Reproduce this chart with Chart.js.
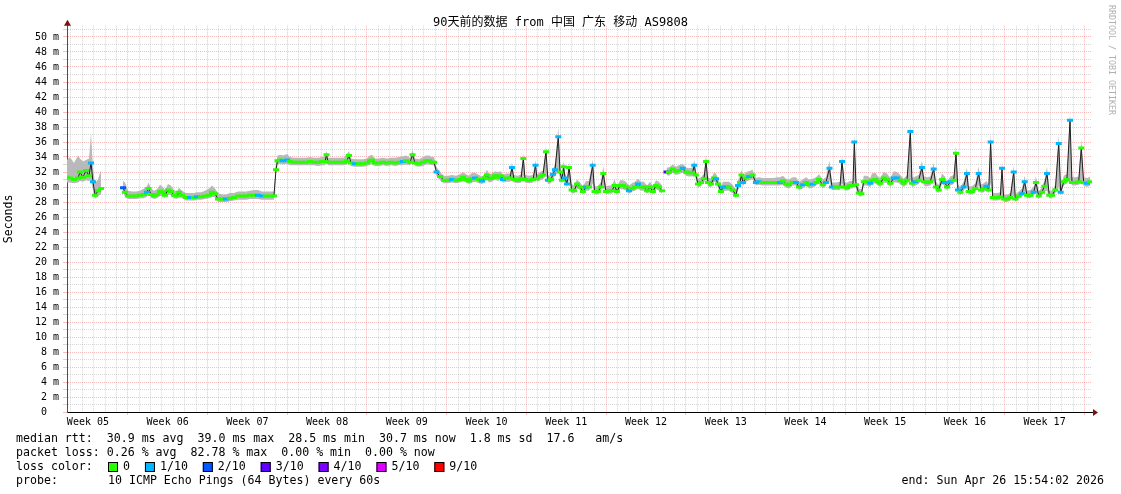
<!DOCTYPE html>
<html>
<head>
<meta charset="utf-8">
<title>SmokePing 90 days</title>
<script src="https://cdn.jsdelivr.net/npm/chart.js"></script>
<style>
  body { margin: 0; background: #fff; }
  canvas { display: block; }
</style>
</head>
<body>
<canvas id="smokeChart" width="1121" height="494"></canvas>
<script>
// time in days since the graph start (Mon Jan 26 15:54:02 2026), null marks a gap
const dayOffsets = [
  0.00, 0.26, 0.61, 0.97, 1.14, 1.40, 1.67, 1.93, 2.11, 2.28, 2.46, 2.72, 2.99, 3.78,
  4.92, 5.09, 5.36, 5.71, 6.06, 6.41, 6.76, 7.02, 7.16, 7.38,
  7.64, 7.90, 8.17, 8.43, 8.60, 8.87, 9.13, 9.39, 9.66, 9.83,
  10.10, 10.45, 10.80, 11.15, 11.41, 11.77, 12.12, 12.47, 12.73, 12.99,
  13.26, 13.61, 13.96, 14.31, 14.66, 15.01, 15.37, 15.72, 16.07, 16.42,
  16.77, 17.12, 17.47, 17.82, 18.17, 18.35, 18.48,
  18.70, 18.97, 19.32, 19.58, 19.93, 20.28, 20.63, 20.99, 21.34, 21.69,
  22.04, 22.39, 22.65, 22.79, 22.92, 23.27, 23.62, 23.97, 24.32, 24.58,
  24.76, 24.93, 25.29, 25.64, 25.99, 26.34, 26.60, 26.78, 27.04, 27.39,
  27.75, 28.10, 28.45, 28.80, 29.15, 29.50, 29.77, 30.12, 30.34, 30.56,
  30.91, 31.26, 31.52, 31.79, 32.05, 32.23,
  32.44, 32.75, 33.10, 33.45, 33.80, 34.16, 34.51, 34.77, 35.04, 35.30,
  35.56, 35.83, 36.18, 36.44, 36.70, 36.88, 37.05, 37.31, 37.58, 37.84,
  38.10, 38.28, 38.55, 38.90, 39.07, 39.25, 39.60, 39.86, 40.07, 40.22,
  40.57, 40.92, 41.14, 41.27, 41.53, 41.79, 42.06, 42.23, 42.50, 42.67,
  42.85, 43.14, 43.29, 43.46, 43.60, 43.73, 43.90, 44.08,
  44.31, 44.52, 44.78, 45.04, 45.30, 45.57, 45.83, 46.16, 46.32, 46.62,
  46.88, 47.09, 47.32, 47.59, 47.85, 48.07, 48.29, 48.56, 48.82, 49.08,
  49.35, 49.61, 49.87, 50.14, 50.40, 50.66, 50.93, 51.19, 51.45, 51.72,
  51.98, 52.25, 52.42,
  52.64, 52.86, 53.18, 53.47, 53.73, 54.06, 54.35, 54.61, 54.92, 55.08,
  55.22, 55.40, 55.67, 55.93, 56.11, 56.28, 56.55, 56.81, 56.99, 57.16,
  57.42, 57.60, 57.86, 58.13, 58.45, 58.74, 58.92, 59.09, 59.22, 59.35,
  59.61, 59.88, 60.20, 60.49, 60.75, 61.08, 61.37, 61.72, 62.07, 62.34,
  62.60, 62.86, 63.13, 63.39, 63.72, 64.01, 64.27, 64.60, 64.89, 65.15,
  65.48, 65.77, 66.03, 66.35, 66.64,
  66.95, 67.17, 67.52, 67.87, 68.05, 68.27, 68.49, 68.75, 69.01, 69.13,
  69.28, 69.52, 69.75, 69.96, 70.24, 70.53, 70.68, 70.97, 71.21, 71.41,
  71.71, 72.00, 72.29, 72.59, 72.88, 73.17, 73.46, 73.76, 74.05, 74.20,
  74.49, 74.78, 75.07, 75.25, 75.51, 75.80, 76.10, 76.30, 76.54, 76.83,
  77.09, 77.27, 77.56, 77.86, 78.06, 78.23, 78.44, 78.73, 79.02, 79.17,
  79.46, 79.75, 80.05, 80.25, 80.49, 80.73, 80.93, 81.10, 81.28, 81.66,
  81.95, 82.10, 82.25, 82.54, 82.83, 83.13, 83.27, 83.56, 83.85, 84.09,
  84.29, 84.58, 84.88, 85.08, 85.32, 85.61, 85.81, 86.05, 86.25, 86.49,
  86.78, 87.08, 87.25, 87.52, 87.80, 88.07, 88.24, 88.53, 88.83, 89.06,
  89.27, 89.56, 89.85
];

// median rtt in ms
const medianMs = [
  31.3, 31.2, 31.0, 31.2, 32.0, 31.3, 32.2, 31.5, 33.2, 30.7, 28.9, 29.5, 29.8, null,
  29.9, 29.3, 28.8, 28.8, 28.8, 28.9, 29.0, 29.3, 29.8, 29.0,
  28.8, 29.0, 29.4, 29.3, 28.9, 29.6, 29.4, 28.9, 28.8, 29.3,
  28.9, 28.6, 28.6, 28.6, 28.7, 28.7, 28.8, 28.9, 29.3, 29.1,
  28.4, 28.4, 28.4, 28.5, 28.6, 28.8, 28.8, 28.8, 28.9, 28.9,
  28.9, 28.8, 28.8, 28.8, 28.8, 32.3, 33.5,
  33.6, 33.5, 33.6, 33.4, 33.3, 33.3, 33.3, 33.3, 33.4, 33.3,
  33.3, 33.4, 33.4, 34.3, 33.3, 33.3, 33.3, 33.3, 33.3, 33.5,
  34.2, 33.2, 33.1, 33.1, 33.1, 33.2, 33.5, 33.6, 33.2, 33.2,
  33.3, 33.2, 33.3, 33.2, 33.3, 33.4, 33.5, 33.3, 34.3, 33.2,
  33.1, 33.3, 33.5, 33.5, 33.3, 33.3,
  32.0, 31.4, 30.9, 30.9, 31.0, 30.9, 31.0, 31.3, 31.0, 30.8,
  31.1, 31.2, 31.0, 30.8, 31.2, 31.6, 31.1, 31.2, 31.5, 31.3,
  31.5, 31.0, 31.2, 31.2, 32.6, 31.0, 30.9, 31.1, 33.8, 31.0,
  30.9, 31.0, 32.9, 31.1, 31.4, 31.6, 34.7, 30.9, 31.0, 31.7,
  32.3, 36.7, 32.0, 30.9, 32.7, 31.2, 30.4, 32.6,
  29.6, 29.5, 30.4, 30.0, 29.4, 30.0, 30.0, 32.9, 29.4, 29.4,
  30.0, 31.8, 29.4, 29.5, 29.5, 30.2, 29.4, 30.2, 30.2, 30.0,
  29.5, 29.8, 30.0, 30.4, 30.0, 30.0, 29.5, 30.0, 29.4, 30.2,
  30.0, 29.5, null,
  32.0, 32.0, 32.4, 32.1, 32.2, 32.5, 32.0, 31.9, 31.9, 32.9,
  31.6, 30.4, 30.6, 31.1, 33.4, 30.6, 30.4, 31.2, 31.1, 30.4,
  29.4, 30.0, 30.0, 30.0, 29.6, 28.9, 30.2, 30.6, 31.6, 30.6,
  31.2, 31.4, 31.6, 30.6, 30.7, 30.6, 30.6, 30.6, 30.6, 30.6,
  30.6, 30.8, 30.4, 30.3, 30.6, 30.6, 30.0, 30.3, 30.6, 30.3,
  30.4, 30.6, 31.0, 30.3, 30.6,
  32.5, 30.0, 30.0, 30.0, 33.4, 30.0, 29.9, 30.2, 30.2, 36.0,
  30.3, 29.2, 29.1, 30.7, 30.7, 30.5, 30.9, 31.0, 30.7, 30.5,
  31.2, 31.0, 30.5, 31.2, 31.2, 30.9, 30.5, 30.9, 37.4, 30.5,
  30.7, 30.9, 32.6, 30.7, 30.6, 30.7, 32.4, 30.0, 29.6, 31.0,
  30.6, 30.0, 30.7, 30.9, 34.5, 29.6, 29.3, 30.0, 31.8, 29.4,
  29.4, 29.8, 31.8, 29.6, 29.8, 30.1, 29.6, 36.0, 28.6, 28.6,
  28.7, 32.5, 28.4, 28.4, 28.6, 32.0, 28.4, 28.8, 29.1, 30.7,
  28.9, 28.9, 29.3, 30.6, 28.8, 29.3, 30.1, 31.8, 28.9, 28.9,
  29.6, 35.8, 29.3, 30.7, 31.0, 38.9, 30.6, 30.6, 30.7, 35.2,
  30.6, 30.5, 30.7
];

// upper edge of the smoke (slowest pings), ms
const smokeHighMs = [
  33.6, 34.0, 33.2, 34.2, 33.8, 33.4, 33.6, 33.8, 37.2, 32.5, 30.5, 31.0, 32.3, null,
  30.8, 30.6, 29.5, 29.4, 29.4, 29.5, 29.8, 30.1, 30.6, 29.8,
  29.5, 29.7, 30.3, 30.0, 29.6, 30.4, 30.2, 29.6, 29.4, 29.9,
  29.5, 29.2, 29.2, 29.2, 29.3, 29.3, 29.5, 29.8, 30.2, 29.8,
  29.2, 29.0, 29.0, 29.2, 29.2, 29.4, 29.4, 29.4, 29.5, 29.6,
  29.6, 29.4, 29.4, 29.4, 29.4, 33.0, 34.2,
  34.3, 34.2, 34.4, 34.0, 33.9, 33.9, 33.9, 33.9, 34.0, 33.9,
  33.9, 34.0, 34.1, 34.8, 33.9, 33.9, 33.9, 33.9, 33.9, 34.4,
  34.8, 33.8, 33.7, 33.7, 33.7, 33.8, 34.2, 34.3, 33.8, 33.8,
  33.9, 33.8, 33.9, 33.9, 34.0, 34.1, 34.2, 33.9, 34.9, 33.8,
  33.7, 34.0, 34.2, 34.2, 34.0, 34.0,
  32.7, 32.0, 31.5, 31.5, 31.6, 31.5, 31.7, 32.0, 31.7, 31.5,
  31.9, 31.9, 31.6, 31.4, 31.8, 32.3, 31.7, 31.8, 32.1, 32.0,
  32.1, 31.6, 31.8, 31.8, 33.3, 31.6, 31.5, 31.7, 34.5, 31.6,
  31.5, 31.6, 33.6, 31.7, 32.0, 32.2, 35.5, 31.5, 31.6, 32.4,
  33.0, 38.0, 32.7, 31.5, 33.5, 31.9, 31.0, 33.4,
  30.4, 30.2, 31.0, 30.6, 30.1, 30.8, 30.8, 33.7, 30.1, 30.1,
  30.7, 32.8, 30.1, 30.2, 30.2, 31.0, 30.1, 30.9, 30.9, 30.7,
  30.2, 30.5, 30.7, 31.1, 30.7, 30.7, 30.2, 30.7, 30.1, 30.9,
  30.7, 30.2, null,
  32.6, 32.6, 33.0, 32.7, 32.9, 33.1, 32.6, 32.5, 32.6, 33.6,
  32.2, 31.1, 31.3, 31.8, 34.3, 31.3, 31.1, 31.9, 31.8, 31.1,
  30.1, 30.7, 30.7, 30.7, 30.3, 29.6, 31.0, 31.4, 32.3, 31.3,
  32.0, 32.1, 32.3, 31.2, 31.3, 31.2, 31.2, 31.2, 31.2, 31.3,
  31.3, 31.5, 31.1, 31.0, 31.3, 31.3, 30.7, 31.0, 31.3, 31.0,
  31.1, 31.3, 31.7, 31.0, 31.3,
  33.5, 30.6, 30.6, 30.7, 34.2, 30.6, 30.6, 30.8, 30.8, 37.0,
  30.9, 29.8, 29.7, 31.5, 31.5, 31.2, 31.8, 31.9, 31.4, 31.2,
  32.0, 31.8, 31.2, 32.1, 32.0, 31.6, 31.1, 31.6, 38.4, 31.2,
  31.4, 31.6, 33.5, 31.4, 31.3, 31.4, 33.2, 30.7, 30.3, 31.8,
  31.4, 30.7, 31.4, 31.6, 35.5, 30.3, 30.0, 30.7, 32.6, 30.1,
  30.1, 30.5, 32.7, 30.3, 30.5, 30.8, 30.3, 37.2, 29.2, 29.2,
  29.3, 33.4, 29.0, 29.0, 29.2, 32.9, 29.0, 29.4, 29.8, 31.5,
  29.5, 29.6, 30.0, 31.4, 29.4, 30.0, 30.8, 32.7, 29.5, 29.5,
  30.3, 37.0, 30.0, 31.5, 31.8, 39.9, 31.3, 31.3, 31.4, 36.4,
  31.3, 31.2, 31.4
];

// lower edge of the smoke (fastest pings), ms
const smokeLowMs = [
  30.6, 30.6, 30.5, 30.6, 30.8, 30.7, 30.9, 30.8, 31.0, 29.6, 28.4, 28.8, 29.0, null,
  29.3, 28.7, 28.4, 28.4, 28.4, 28.5, 28.5, 28.7, 29.0, 28.6,
  28.4, 28.5, 28.8, 28.8, 28.5, 29.0, 28.9, 28.5, 28.4, 28.7,
  28.5, 28.2, 28.2, 28.2, 28.3, 28.3, 28.4, 28.5, 28.7, 28.6,
  28.0, 28.0, 28.0, 28.1, 28.2, 28.3, 28.3, 28.3, 28.4, 28.4,
  28.4, 28.3, 28.3, 28.3, 28.3, 31.8, 33.0,
  33.1, 33.0, 33.1, 32.9, 32.9, 32.9, 32.9, 32.9, 32.9, 32.9,
  32.8, 32.9, 32.9, 33.3, 32.9, 32.9, 32.9, 32.9, 32.9, 33.0,
  33.4, 32.8, 32.7, 32.7, 32.7, 32.8, 33.0, 33.0, 32.8, 32.8,
  32.9, 32.8, 32.9, 32.8, 32.9, 32.9, 33.0, 32.9, 33.4, 32.8,
  32.7, 32.8, 33.0, 33.0, 32.9, 32.9,
  31.5, 30.9, 30.5, 30.5, 30.6, 30.5, 30.6, 30.8, 30.6, 30.4,
  30.6, 30.7, 30.5, 30.4, 30.7, 31.0, 30.6, 30.7, 31.0, 30.8,
  31.0, 30.6, 30.7, 30.7, 31.0, 30.6, 30.5, 30.6, 31.5, 30.6,
  30.5, 30.6, 31.2, 30.7, 30.9, 31.0, 31.5, 30.4, 30.5, 31.1,
  31.5, 32.0, 31.2, 30.4, 31.5, 30.6, 30.0, 31.0,
  29.2, 29.1, 29.9, 29.6, 29.0, 29.5, 29.5, 30.5, 29.0, 29.0,
  29.5, 30.3, 29.0, 29.1, 29.1, 29.7, 29.0, 29.7, 29.7, 29.5,
  29.1, 29.4, 29.5, 29.8, 29.5, 29.5, 29.1, 29.5, 29.0, 29.7,
  29.5, 29.1, null,
  31.6, 31.5, 31.9, 31.6, 31.7, 31.9, 31.5, 31.4, 31.4, 31.8,
  31.0, 29.9, 30.1, 30.6, 31.2, 30.1, 29.9, 30.7, 30.6, 29.9,
  29.0, 29.5, 29.5, 29.5, 29.2, 28.5, 29.6, 30.0, 31.0, 30.1,
  30.7, 30.9, 31.0, 30.2, 30.3, 30.2, 30.2, 30.2, 30.2, 30.2,
  30.2, 30.3, 29.9, 29.8, 30.2, 30.2, 29.6, 29.8, 30.2, 29.8,
  29.9, 30.2, 30.5, 29.8, 30.2,
  30.8, 29.6, 29.6, 29.6, 30.5, 29.6, 29.5, 29.8, 29.8, 30.8,
  29.8, 28.8, 28.7, 30.2, 30.2, 30.0, 30.4, 30.5, 30.2, 30.0,
  30.6, 30.5, 30.0, 30.6, 30.6, 30.4, 30.0, 30.4, 31.0, 30.0,
  30.2, 30.4, 31.0, 30.2, 30.1, 30.2, 30.8, 29.5, 29.2, 30.4,
  30.1, 29.5, 30.2, 30.4, 31.0, 29.2, 28.9, 29.5, 30.2, 29.0,
  29.0, 29.3, 30.2, 29.2, 29.3, 29.6, 29.2, 30.5, 28.2, 28.2,
  28.3, 29.0, 28.0, 28.0, 28.2, 28.8, 28.0, 28.4, 28.7, 29.2,
  28.5, 28.5, 28.9, 29.3, 28.4, 28.9, 29.4, 29.5, 28.5, 28.5,
  29.2, 30.0, 28.9, 30.2, 30.5, 31.0, 30.2, 30.2, 30.3, 30.5,
  30.2, 30.0, 30.2
];

// packet loss per sample, in tenths (10 pings)
const lossTenths = [
  0, 0, 0, 0, 0, 0, 0, 0, 1, 1, 0, 0, 0, 0,
  2, 0, 0, 0, 0, 0, 0, 1, 0, 0,
  0, 0, 0, 0, 0, 0, 0, 0, 0, 0,
  0, 0, 1, 0, 1, 0, 0, 0, 0, 0,
  0, 0, 1, 0, 0, 0, 0, 0, 0, 0,
  1, 1, 0, 0, 0, 0, 0,
  0, 1, 1, 0, 0, 0, 0, 0, 0, 0,
  0, 0, 0, 0, 0, 0, 0, 0, 0, 0,
  0, 0, 1, 0, 0, 0, 0, 0, 0, 0,
  0, 0, 0, 0, 0, 1, 0, 0, 0, 0,
  0, 0, 0, 0, 0, 0,
  1, 0, 0, 0, 1, 0, 0, 0, 0, 0,
  0, 1, 0, 1, 0, 0, 0, 0, 0, 0,
  0, 1, 0, 0, 1, 0, 0, 0, 0, 0,
  0, 0, 1, 0, 0, 0, 0, 1, 0, 1,
  1, 1, 0, 0, 0, 1, 1, 0,
  0, 0, 0, 0, 0, 1, 0, 1, 0, 0,
  0, 0, 0, 0, 0, 0, 0, 0, 0, 0,
  1, 0, 0, 1, 0, 0, 0, 0, 0, 0,
  0, 0, 0,
  3, 0, 0, 0, 0, 1, 0, 0, 0, 1,
  0, 0, 0, 0, 0, 0, 0, 0, 1, 0,
  0, 1, 1, 0, 0, 0, 1, 0, 0, 1,
  0, 1, 0, 1, 1, 0, 0, 0, 0, 0,
  1, 0, 0, 0, 0, 1, 0, 1, 0, 0,
  1, 0, 0, 0, 1,
  1, 1, 0, 0, 1, 0, 0, 0, 0, 1,
  0, 0, 0, 0, 0, 1, 0, 0, 0, 0,
  0, 0, 0, 1, 1, 0, 0, 0, 1, 0,
  1, 0, 1, 0, 0, 0, 1, 0, 0, 0,
  1, 0, 1, 0, 0, 1, 0, 1, 1, 0,
  0, 0, 1, 0, 0, 1, 0, 1, 0, 0,
  0, 1, 0, 0, 0, 1, 0, 0, 1, 1,
  0, 0, 1, 0, 0, 0, 0, 1, 0, 0,
  0, 1, 1, 0, 0, 1, 0, 0, 0, 0,
  0, 1, 0
];

const weekLabels = ['Week 05', 'Week 06', 'Week 07', 'Week 08', 'Week 09', 'Week 10', 'Week 11',
  'Week 12', 'Week 13', 'Week 14', 'Week 15', 'Week 16', 'Week 17'];
const lossLegendLabels = ['0', '1/10', '2/10', '3/10', '4/10', '5/10', '9/10'];
const lossLegendColors = ['#26ff00', '#00b8ff', '#0059ff', '#5e00ff', '#7e00ff', '#dd00ff', '#ff0000'];
const rttStats = ['30.9 ms avg', '39.0 ms max', '28.5 ms min', '30.7 ms now', '1.8 ms sd', '17.6   am/s'];
const lossStats = ['0.26 % avg', '82.78 % max', '0.00 % min', '0.00 % now'];
const titleText = '90天前的数据 from 中国 广东 移动 AS9808';
const probeText = '10 ICMP Echo Pings (64 Bytes) every 60s';
const endText = 'end: Sun Apr 26 15:54:02 2026';

const rangeDays = 90;
const firstMidnight = 0.3375; // Tue Jan 27 00:00
const yMax = 51.5;

const mono = "'DejaVu Sans Mono', 'Noto Sans CJK SC', monospace";
Chart.defaults.font.family = mono;
Chart.defaults.color = '#000';

const minorGrid = 'rgba(150,150,150,0.38)';
const majorGrid = 'rgba(235,100,100,0.42)';
const smokeColor = '#b9b9b9';

function lossColor(t) {
  if (t >= 9) return lossLegendColors[6];
  return lossLegendColors[Math.min(t, 5)];
}

const points = values => dayOffsets.map((d, i) => ({ x: d, y: values[i] }));

// day lines (red on sundays) and week labels in the middle of each week
const xTicks = [];
for (let k = 0; firstMidnight + k < rangeDays; k++) {
  xTicks.push({ value: firstMidnight + k, kind: k % 7 === 5 ? 'major' : 'minor', text: '' });
}
weekLabels.forEach((w, i) => {
  xTicks.push({ value: firstMidnight + 5 + 7 * (i - 1) + 3.5, kind: 'label', text: w });
});
xTicks.sort((a, b) => a.value - b.value);

const yTicks = [];
for (let v = 0; v <= Math.floor(yMax); v++) yTicks.push(v);

const decor = {
  id: 'decor',
  afterDraw(chart) {
    const ctx = chart.ctx;
    const a = chart.chartArea;
    const ax = Math.round(a.left) + 0.5;
    const ay = Math.round(a.bottom) + 0.5;
    ctx.save();

    // axis arrows
    ctx.strokeStyle = '#000';
    ctx.lineWidth = 1;
    ctx.beginPath();
    ctx.moveTo(a.right, ay);
    ctx.lineTo(a.right + 3, ay);
    ctx.stroke();
    ctx.fillStyle = '#7f1010';
    ctx.beginPath();
    ctx.moveTo(a.right + 1, ay - 3.5);
    ctx.lineTo(a.right + 6, ay);
    ctx.lineTo(a.right + 1, ay + 3.5);
    ctx.closePath();
    ctx.fill();
    ctx.beginPath();
    ctx.moveTo(ax - 3.5, a.top);
    ctx.lineTo(ax, a.top - 6);
    ctx.lineTo(ax + 3.5, a.top);
    ctx.closePath();
    ctx.fill();

    // title
    ctx.fillStyle = '#000';
    ctx.textBaseline = 'middle';
    ctx.textAlign = 'center';
    ctx.font = '12px ' + mono;
    ctx.fillText(titleText, chart.width / 2, 23);

    // legend block
    ctx.textAlign = 'left';
    ctx.font = '11.6px ' + mono;
    ctx.fillText('median rtt:  ' + rttStats.join('  '), 16, 439);
    ctx.fillText('packet loss: ' + lossStats.join('  '), 16, 453);
    ctx.fillText('loss color:', 16, 467);
    let x = 108;
    const space = ctx.measureText(' ').width;
    lossLegendLabels.forEach((lbl, i) => {
      ctx.fillStyle = lossLegendColors[i];
      ctx.fillRect(x, 462, 10, 10);
      ctx.strokeStyle = '#000';
      ctx.strokeRect(x + 0.5, 462.5, 9, 9);
      ctx.fillStyle = '#000';
      ctx.fillText(lbl, x + 15, 467);
      x += 16 + ctx.measureText(lbl).width + 2 * space;
    });
    ctx.fillText('probe:', 16, 481);
    ctx.fillText(probeText, 108, 481);
    ctx.textAlign = 'right';
    ctx.fillText(endText, 1104, 481);

    // rrdtool watermark
    ctx.translate(1111, 5);
    ctx.rotate(Math.PI / 2);
    ctx.textAlign = 'left';
    ctx.fillStyle = '#b0b0b0';
    ctx.font = '8.3px ' + mono;
    ctx.fillText('RRDTOOL / TOBI OETIKER', 0, 0);
    ctx.restore();
  }
};

new Chart(document.getElementById('smokeChart'), {
  type: 'line',
  data: {
    datasets: [
      {
        label: 'median rtt',
        data: points(medianMs),
        borderColor: '#202020',
        borderWidth: 1,
        pointStyle: 'line',
        pointRadius: 3,
        pointBorderWidth: 3,
        pointBorderColor: c => lossColor(lossTenths[c.dataIndex]),
        fill: false,
        spanGaps: false,
        order: 0
      },
      {
        label: 'smoke high',
        data: points(smokeHighMs),
        borderWidth: 0,
        pointRadius: 0,
        backgroundColor: smokeColor,
        fill: '+1',
        spanGaps: false,
        order: 1
      },
      {
        label: 'smoke low',
        data: points(smokeLowMs),
        borderWidth: 0,
        pointRadius: 0,
        fill: false,
        spanGaps: false,
        order: 2
      }
    ]
  },
  options: {
    responsive: false,
    animation: false,
    devicePixelRatio: 1,
    events: [],
    layout: { padding: { top: 25.75, right: 29, bottom: 0, left: 0 } },
    plugins: {
      legend: { display: false },
      tooltip: { enabled: false },
      title: { display: false }
    },
    scales: {
      x: {
        type: 'linear',
        min: 0,
        max: rangeDays,
        afterBuildTicks: s => { s.ticks = xTicks.map(t => ({ value: t.value, kind: t.kind })); },
        afterFit: s => { s.height = 82; },
        ticks: {
          autoSkip: false,
          maxRotation: 0,
          minRotation: 0,
          padding: 1,
          font: { size: 10 },
          color: '#000',
          callback: (v, i) => xTicks[i].text
        },
        grid: {
          tickLength: 3,
          color: c => {
            const k = c.tick && c.tick.kind;
            return k === 'major' ? majorGrid : k === 'minor' ? minorGrid : 'rgba(0,0,0,0)';
          },
          tickColor: c => (c.tick && c.tick.kind === 'major') ? majorGrid : 'rgba(0,0,0,0)'
        },
        border: { display: true, color: '#000', width: 1, dash: [1, 1] }
      },
      y: {
        type: 'linear',
        min: 0,
        max: yMax,
        afterBuildTicks: s => { s.ticks = yTicks.map(v => ({ value: v })); },
        afterFit: s => { s.width = 67; },
        ticks: {
          autoSkip: false,
          padding: 4,
          font: { size: 10 },
          color: '#000',
          callback: v => (v % 2 ? '' : (v === 0 ? '0  ' : v + ' m'))
        },
        grid: {
          tickLength: 4,
          color: c => (c.tick && c.tick.value % 2 === 0) ? majorGrid : minorGrid,
          tickColor: c => (c.tick && c.tick.value % 2 === 0) ? majorGrid : minorGrid
        },
        border: { display: true, color: '#505050', width: 1, dash: [1, 1] },
        title: {
          display: true,
          text: 'Seconds',
          font: { size: 11.6 },
          color: '#000',
          padding: { top: 2, bottom: 0 }
        }
      }
    }
  },
  plugins: [decor]
});
</script>
</body>
</html>
